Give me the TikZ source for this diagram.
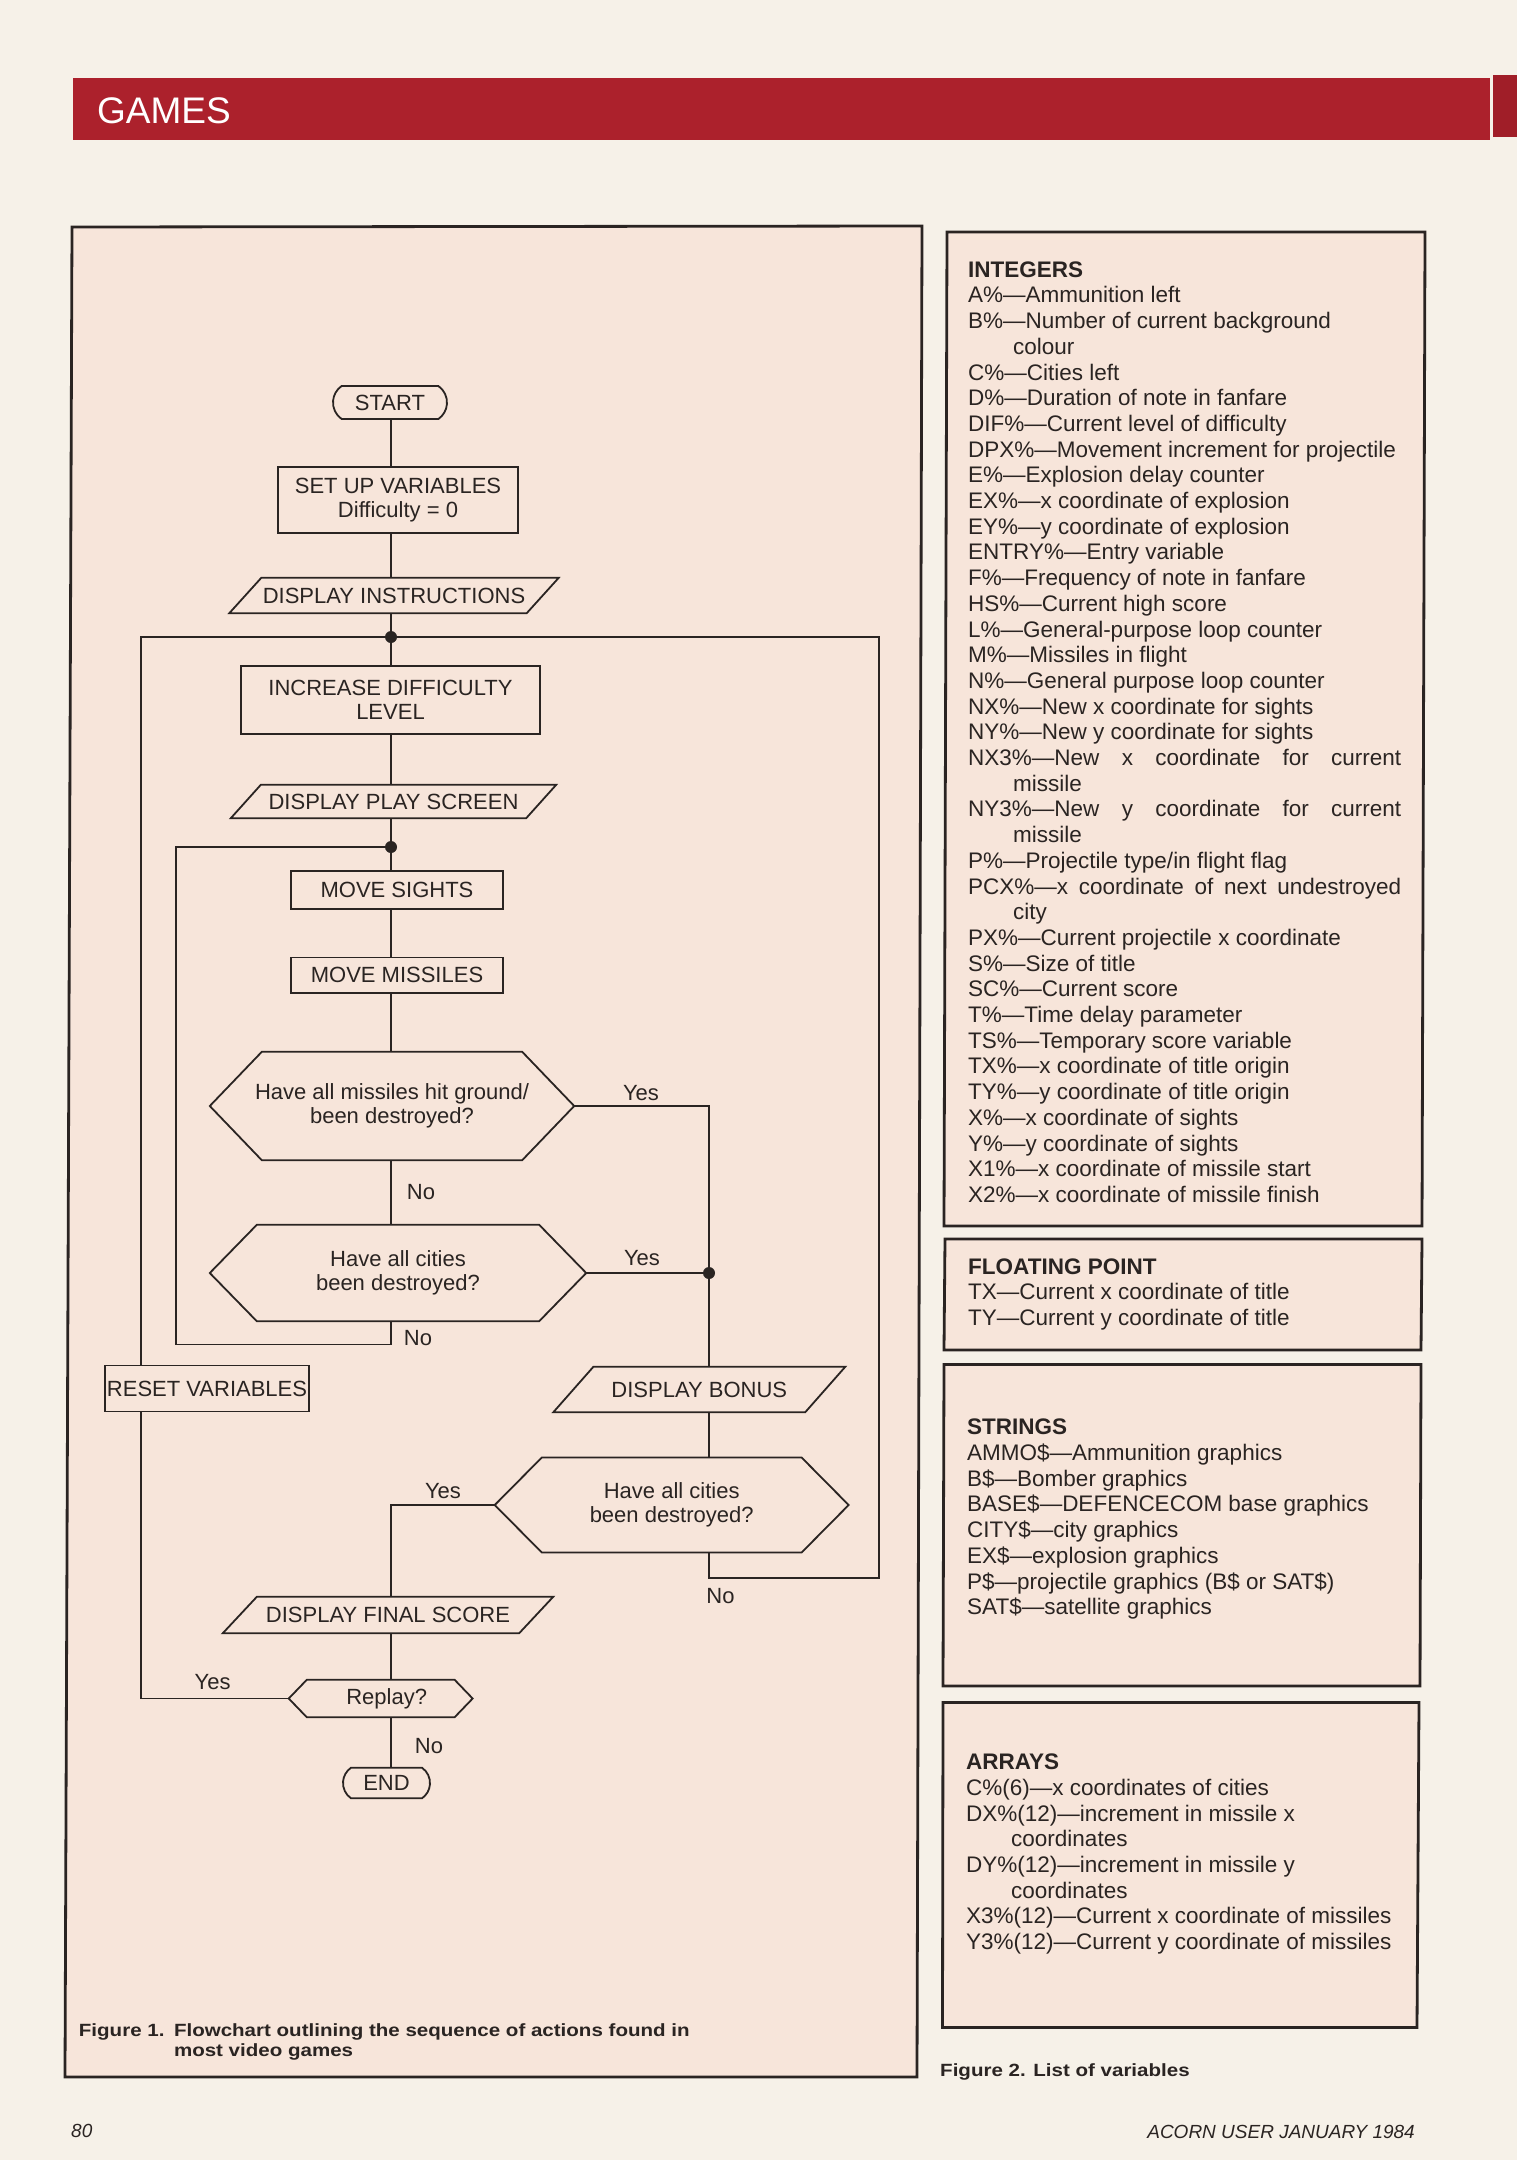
\documentclass[tikz,border=0pt]{standalone}
\usepackage{fontspec}
\setmainfont{Liberation Sans}
\usepackage{graphicx}
\usetikzlibrary{shapes.misc}
\definecolor{pagebg}{RGB}{246,241,232}
\definecolor{boxbg}{RGB}{247,229,218}
\definecolor{barred}{RGB}{172,33,44}
\definecolor{barred2}{RGB}{160,30,40}
\definecolor{ink}{RGB}{42,36,34}
\newcommand\fcfont{\fontsize{22}{24}\selectfont}
\newcommand\lsfont{\fontsize{22.5}{25.7}\selectfont}
\newcommand\captfont{\fontsize{17.7}{19.3}\selectfont\bfseries}
\newcommand\capt[1]{\scalebox{1.16}[1]{\captfont #1}}
\newcommand\paranode[7]{%
  \node[ghost, minimum width=#4pt, minimum height=#5pt] (#1) at (#2,#3) {#7};
  \draw[fl] ([xshift=-#6pt]#1.south west) -- ([xshift=#6pt]#1.north west) -- ([xshift=#6pt]#1.north east) -- ([xshift=-#6pt]#1.south east) -- cycle;}
\newcommand\hexnode[7]{%
  \node[ghost, minimum width=#4pt, minimum height=#5pt] (#1) at (#2,#3) {#7};
  \draw[fl] (#1.west) -- ([xshift=#6pt]#1.north west) -- ([xshift=-#6pt]#1.north east) -- (#1.east) -- ([xshift=-#6pt]#1.south east) -- ([xshift=#6pt]#1.south west) -- cycle;}
\begin{document}
\begin{tikzpicture}[x=1pt,y=-1pt,
  fl/.style={draw=ink, line width=1.8pt, line join=miter},
  ghost/.style={rectangle, inner sep=0pt, font=\fcfont, align=center, text=ink},
  procbox/.style={ghost, draw=ink, line width=1.8pt},
  term/.style={draw=ink, line width=1.8pt, rounded rectangle, rounded rectangle arc length=110, inner sep=0pt, font=\fcfont, text=ink},
  lab/.style={font=\fcfont, inner sep=0pt, text=ink},
  jdot/.style={circle, fill=ink, inner sep=0pt, minimum size=12pt},
  frame/.style={draw=ink, line width=2.8pt, fill=boxbg},
  list/.style={anchor=north west, inner sep=0pt, align=left, font=\lsfont, text=ink}]
\useasboundingbox (0,0) rectangle (1517,2160);
\fill[pagebg] (0,0) rectangle (1517,2160);
% header
\fill[barred] (73,78) rectangle (1490,140);
\fill[barred2] (1493,75) rectangle (1517,137);
\node[anchor=base west, inner sep=0pt, text=white, font=\fontsize{37}{40}\selectfont] (games) at (97,123) {GAMES};
% frames
\draw[frame] (72,227) -- (922,226) -- (917,2077) -- (65,2077) -- cycle;
\draw[frame] (947,232) -- (1425,232) -- (1422,1226) -- (944,1226) -- cycle;
\draw[frame] (945,1239) -- (1422,1239) -- (1421,1350) -- (944,1350) -- cycle;
\draw[frame] (944,1364.5) -- (1421,1364.5) -- (1420,1686) -- (943,1686) -- cycle;
\draw[frame] (943,1702.5) -- (1419,1702.5) -- (1417,2027.5) -- (942.5,2027.5) -- cycle;
% axis coordinates
\coordinate (ax) at (391,0);
\coordinate (rx) at (709,0);
\coordinate (l1) at (141,0);
\coordinate (l2) at (176,0);
\coordinate (rr) at (879,0);
\coordinate (dot1) at (391,637);
\coordinate (dot2) at (391,847);
\coordinate (dot3) at (709,1273);
\coordinate (lb) at (391,1344.5);
\coordinate (rb) at (709,1578);
% flowchart nodes
\node[term, minimum width=114pt, minimum height=33pt] (start) at (390,402.5) {START};
\node[procbox, minimum width=240pt, minimum height=66pt] (setup) at (398,500) {SET UP VARIABLES\\Difficulty = 0};
\paranode{instr}{394}{595.5}{297}{35}{16}{DISPLAY INSTRUCTIONS}
\node[procbox, minimum width=299pt, minimum height=68pt] (inc) at (390.5,700) {INCREASE DIFFICULTY\\LEVEL};
\paranode{play}{393.5}{801.5}{295}{33}{15}{DISPLAY PLAY SCREEN}
\node[procbox, minimum width=212pt, minimum height=38pt] (ms) at (397,890) {MOVE SIGHTS};
\node[procbox, minimum width=212pt, minimum height=35.5pt] (mm) at (397,975.3) {MOVE MISSILES};
\hexnode{h1}{392}{1106}{364}{108}{52}{Have all missiles hit ground/\\been destroyed?}
\hexnode{h2}{398}{1273}{376}{96}{47}{Have all cities\\been destroyed?}
\node[procbox, minimum width=204pt, minimum height=46pt] (reset) at (207,1388.5) {RESET VARIABLES};
\paranode{bonus}{699.3}{1389.5}{251.5}{45}{20}{DISPLAY BONUS}
\hexnode{h3}{671.7}{1505}{353.5}{94.5}{47}{Have all cities\\been destroyed?}
\paranode{final}{388}{1615}{296}{36}{17}{DISPLAY FINAL SCORE}
\hexnode{rep}{380.7}{1698.5}{183.5}{37}{18}{\hspace*{12pt}Replay?}
\node[term, minimum width=87pt, minimum height=30.5pt] (end) at (386.5,1783) {END};
% connectors
\draw[fl] (start.south -| ax) -- (setup.north -| ax);
\draw[fl] (setup.south -| ax) -- (instr.north -| ax);
\draw[fl] (instr.south -| ax) -- (dot1) -- (inc.north -| ax);
\draw[fl] (inc.south -| ax) -- (play.north -| ax);
\draw[fl] (play.south -| ax) -- (dot2) -- (ms.north -| ax);
\draw[fl] (ms.south -| ax) -- (mm.north -| ax);
\draw[fl] (mm.south -| ax) -- (h1.north -| ax);
\draw[fl] (h1.south -| ax) -- (h2.north -| ax);
\draw[fl] (h2.south -| ax) -- (lb) -- (lb -| l2) -- (l2 |- dot2) -- (dot2);
\draw[fl] (h1.east) -- (h1.east -| rx) -- (bonus.north -| rx);
\draw[fl] (h2.east) -- (dot3);
\draw[fl] (bonus.south -| rx) -- (h3.north -| rx);
\draw[fl] (h3.south -| rx) -- (rb) -- (rb -| rr) -- (rr |- dot1) -- (dot1);
\draw[fl] (h3.west) -- (h3.west -| ax) -- (final.north -| ax);
\draw[fl] (final.south -| ax) -- (rep.north -| ax);
\draw[fl] (rep.south -| ax) -- (end.north -| ax);
\draw[fl] (rep.west) -- (rep.west -| l1) -- (reset.south -| l1);
\draw[fl] (reset.north -| l1) -- (l1 |- dot1) -- (dot1);
\node[jdot] (d1) at (dot1) {};
\node[jdot] (d2) at (dot2) {};
\node[jdot] (d3) at (dot3) {};
% labels
\node[lab] (y1) at (641,1093) {Yes};
\node[lab] (n1) at (421,1192) {No};
\node[lab] (y2) at (642,1258) {Yes};
\node[lab] (n2) at (418,1338) {No};
\node[lab] (y3) at (443,1491) {Yes};
\node[lab] (n3) at (720.5,1596) {No};
\node[lab] (y4) at (212.6,1681.6) {Yes};
\node[lab] (n4) at (429,1746) {No};
% variable lists
\node[list] (ints) at (968,259) {\rule{0pt}{18pt}\textbf{INTEGERS}\\
A\%—Ammunition left\\
B\%—Number of current background\\
\hspace*{45pt}colour\\
C\%—Cities left\\
D\%—Duration of note in fanfare\\
DIF\%—Current level of difficulty\\
DPX\%—Movement increment for projectile\\
E\%—Explosion delay counter\\
EX\%—x coordinate of explosion\\
EY\%—y coordinate of explosion\\
ENTRY\%—Entry variable\\
F\%—Frequency of note in fanfare\\
HS\%—Current high score\\
L\%—General-purpose loop counter\\
M\%—Missiles in flight\\
N\%—General purpose loop counter\\
NX\%—New x coordinate for sights\\
NY\%—New y coordinate for sights\\
\makebox[433pt][s]{NX3\%—New x coordinate for current}\\
\hspace*{45pt}missile\\
\makebox[433pt][s]{NY3\%—New y coordinate for current}\\
\hspace*{45pt}missile\\
P\%—Projectile type/in flight flag\\
\makebox[433pt][s]{PCX\%—x coordinate of next undestroyed}\\
\hspace*{45pt}city\\
PX\%—Current projectile x coordinate\\
S\%—Size of title\\
SC\%—Current score\\
T\%—Time delay parameter\\
TS\%—Temporary score variable\\
TX\%—x coordinate of title origin\\
TY\%—y coordinate of title origin\\
X\%—x coordinate of sights\\
Y\%—y coordinate of sights\\
X1\%—x coordinate of missile start\\
X2\%—x coordinate of missile finish};
\node[list] (floats) at (968,1256) {\rule{0pt}{18pt}\textbf{FLOATING POINT}\\
TX—Current x coordinate of title\\
TY—Current y coordinate of title};
\node[list] (strs) at (967,1416.6) {\rule{0pt}{18pt}\textbf{STRINGS}\\
AMMO\$—Ammunition graphics\\
B\$—Bomber graphics\\
BASE\$—DEFENCECOM base graphics\\
CITY\$—city graphics\\
EX\$—explosion graphics\\
P\$—projectile graphics (B\$ or SAT\$)\\
SAT\$—satellite graphics};
\node[list] (arrs) at (966,1751.5) {\rule{0pt}{18pt}\textbf{ARRAYS}\\
C\%(6)—x coordinates of cities\\
DX\%(12)—increment in missile x\\
\hspace*{45pt}coordinates\\
DY\%(12)—increment in missile y\\
\hspace*{45pt}coordinates\\
X3\%(12)—Current x coordinate of missiles\\
Y3\%(12)—Current y coordinate of missiles};
% captions
\node[anchor=base west, inner sep=0pt, text=ink] (cap1a) at (78.75,2036.7) {\capt{Figure 1.}};
\node[anchor=base west, inner sep=0pt, text=ink] (cap1b) at (173.8,2036.7) {\capt{Flowchart outlining the sequence of actions found in}};
\node[anchor=base west, inner sep=0pt, text=ink] (cap1c) at (173.8,2056) {\capt{most video games}};
\node[anchor=base west, inner sep=0pt, text=ink] (cap2) at (940,2076) {\capt{Figure 2. List of variables}};
\node[anchor=base west, inner sep=0pt, text=ink, font=\fontsize{19}{21}\selectfont\itshape] (pg) at (71,2137) {80};
\node[anchor=base east, inner sep=0pt, text=ink, font=\fontsize{19}{21}\selectfont\itshape] (mag) at (1415,2138) {ACORN USER JANUARY 1984};
\end{tikzpicture}
\end{document}
